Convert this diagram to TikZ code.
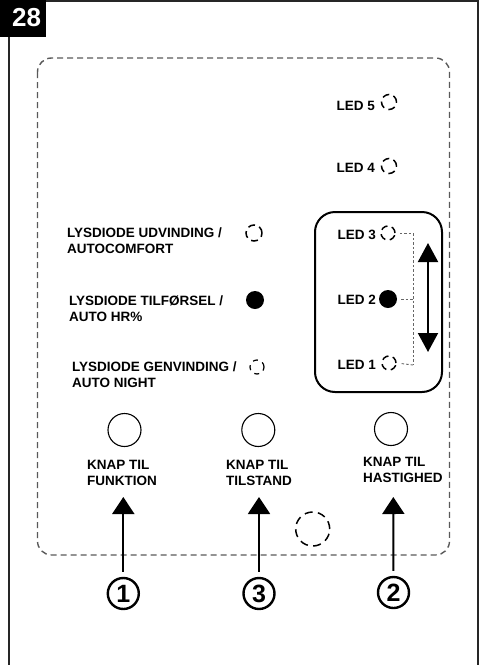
\documentclass[tikz,border=0pt]{standalone}
\usepackage{fontspec}
\setmainfont{Liberation Sans}
\usetikzlibrary{arrows.meta}
\tikzset{
  lbl/.style={font=\fontsize{13.5}{16}\selectfont\bfseries, inner sep=0pt, align=left},
  ledoff/.style={circle, draw, line width=1.5pt, dash pattern=on 7pt off 4.5pt, minimum size=15pt, inner sep=0pt},
  ledon/.style={circle, fill, minimum size=18pt, inner sep=0pt},
  btn/.style={circle, draw, line width=1.1pt, minimum size=33pt, inner sep=0pt},
  num/.style={circle, draw, line width=2.4pt, minimum size=31pt, inner sep=0pt, font=\fontsize{25}{25}\selectfont\bfseries},
  bigarrow/.style={line width=2pt, -{Triangle[length=17pt,width=22pt]}},
  dblarrow/.style={line width=2pt, {Triangle[length=19pt,width=20pt]}-{Triangle[length=19pt,width=20pt]}},
  link/.style={draw=black!60, line width=0.9pt, dash pattern=on 2.5pt off 2pt},
  panel/.style={draw=black!65, line width=1.4pt, dash pattern=on 6pt off 4pt, rounded corners=14pt},
}
\begin{document}
\begin{tikzpicture}[x=1pt,y=-1pt]
\useasboundingbox (0,0) rectangle (479,665);
% outer frame
\draw[line width=1.6pt, black!85] (8.7,665) -- (8.7,0.8) -- (477.8,0.8) -- (477.8,665);
% figure number
\fill[black] (0,0) rectangle (45.5,36.5);
\node[text=white, font=\fontsize{26}{26}\selectfont\bfseries, inner sep=0pt] (figno) at (26.7,17.8) {28};
% dashed panel
\draw[panel] (37.5,58) rectangle (449.5,555);
% speed box
\draw[line width=2pt, rounded corners=20pt] (315,212) rectangle (442,392);

% right LEDs
\node[ledoff] (led5) at (389,102) {};
\node[lbl, anchor=east] (t5) at (375,106) {LED 5};
\node[ledoff] (led4) at (389,166) {};
\node[lbl, anchor=east] (t4) at (375,168) {LED 4};
\node[ledoff, minimum size=14pt] (led3) at (388,233) {};
\node[lbl, anchor=east] (t3) at (376,234.5) {LED 3};
\node[ledon] (led2) at (388,299) {};
\node[lbl, anchor=east] (t2) at (376,299.5) {LED 2};
\node[ledoff, minimum size=14pt] (led1) at (389,363) {};
\node[lbl, anchor=east] (t1) at (376,364.5) {LED 1};

% link line
\coordinate (c3) at (413,233);
\coordinate (c2) at (413,299);
\coordinate (c1) at (413,365);
\draw[link, shorten <=4pt] (led3.east) -- (c3) -- (c1);
\draw[link, shorten >=4pt] (c1) -- (led1.east);
\draw[link, shorten <=4pt] (led2.east) -- (c2);

% double arrow
\coordinate (dtop) at (428,243);
\coordinate (dbot) at (428,352);
\draw[dblarrow] (dtop) -- (dbot);

% left LEDs
\node[lbl, anchor=west] (l1) at (67,240.5) {LYSDIODE UDVINDING /\\AUTOCOMFORT};
\node[ledoff, minimum size=16pt] (m1) at (254,233) {};
\node[lbl, anchor=west] (l2) at (69,308.5) {LYSDIODE TILFØRSEL /\\AUTO HR\%};
\node[ledon] (m2) at (255,300) {};
\node[lbl, anchor=west] (l3) at (72,374.5) {LYSDIODE GENVINDING /\\AUTO NIGHT};
\node[ledoff, minimum size=14pt, line width=1.2pt, dash pattern=on 5pt off 5pt] (m3) at (257,367) {};

% buttons
\node[btn] (b1) at (124.5,430) {};
\node[btn] (b3) at (258.3,430) {};
\node[btn] (b2) at (391,429) {};
\node[lbl, anchor=west] (k1) at (87,472.5) {KNAP TIL\\FUNKTION};
\node[lbl, anchor=west] (k3) at (226,472.5) {KNAP TIL\\TILSTAND};
\node[lbl, anchor=west] (k2) at (363,469.5) {KNAP TIL\\HASTIGHED};

% spare dashed circle
\node[circle, draw, line width=1.5pt, dash pattern=on 8pt off 5.4pt, minimum size=34pt, inner sep=0pt] (spare) at (312.7,529) {};

% numbers
\node[num] (n1) at (123.3,593.5) {1};
\node[num] (n3) at (259,593.5) {3};
\node[num] (n2) at (393.5,592.5) {2};

% arrows
\coordinate (a1) at (123.3,497);
\coordinate (a3) at (259,497);
\coordinate (a2) at (393.3,497);
\draw[bigarrow, shorten <=5pt] (n1.north) -- (a1);
\draw[bigarrow, shorten <=5pt] (n3.north) -- (a3);
\draw[bigarrow, shorten <=5pt] (n2.north) -- (a2);
\end{tikzpicture}
\end{document}
